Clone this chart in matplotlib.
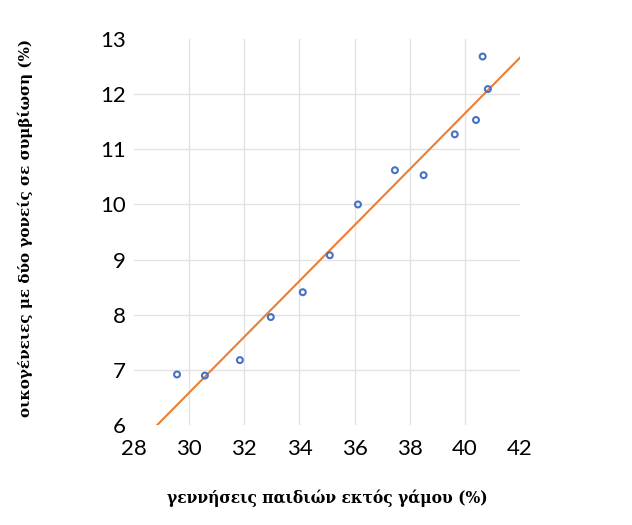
import matplotlib
matplotlib.use("Agg")
import matplotlib.pyplot as plt
import numpy as np

# data
births_outside_marriage = [29.56, 30.57, 31.84, 32.96, 34.12, 35.10, 36.12, 37.46, 38.50, 39.63, 40.40, 40.64, 40.83]
cohabiting_families = [6.92, 6.90, 7.18, 7.96, 8.41, 9.08, 10.00, 10.62, 10.53, 11.27, 11.53, 12.68, 12.09]
trend_slope = 0.506
trend_intercept = -8.59
trend_x_range = [28.0, 42.0]
x_ticks = [28, 30, 32, 34, 36, 38, 40, 42]
y_ticks = [6, 7, 8, 9, 10, 11, 12, 13]

fig = plt.figure(figsize=(6.32, 5.25), dpi=100)
ax = fig.add_axes([0.212, 0.190, 0.611, 0.736])

tx = np.array(trend_x_range)
ax.plot(tx, trend_slope * tx + trend_intercept, color="#ED7D31", lw=1.5, zorder=2)
ax.scatter(births_outside_marriage, cohabiting_families, s=18, facecolors="none",
           edgecolors="#4472C4", linewidths=1.5, zorder=3)

ax.set_xlim(28, 42)
ax.set_ylim(6, 13)
ax.set_xticks(x_ticks)
ax.set_yticks(y_ticks)
for s in ax.spines.values():
    s.set_visible(False)
ax.grid(True, color="#e3e3e3", lw=1)
ax.set_axisbelow(True)
# no gridlines on the plot edges
for axis in (ax.xaxis, ax.yaxis):
    ticks = axis.get_major_ticks()
    ticks[0].gridline.set_visible(False)
    ticks[-1].gridline.set_visible(False)
ax.tick_params(length=0, labelsize=16)
ax.tick_params(axis="x", pad=10)
ax.tick_params(axis="y", pad=6)
for lab in ax.get_xticklabels() + ax.get_yticklabels():
    lab.set_family("Lato")

ax.set_xlabel("γεννήσεις παιδιών εκτός γάμου (%)", family="DejaVu Serif",
              fontweight="bold", fontsize=11.2)
ax.set_ylabel("οικογένειες με δύο γονείς σε συμβίωση (%)", family="DejaVu Serif",
              fontweight="bold", fontsize=10.9)
ax.xaxis.set_label_coords(0.5, -0.166)
ax.yaxis.set_label_coords(-0.262, 0.51)

fig.savefig("out.png", dpi=100)
